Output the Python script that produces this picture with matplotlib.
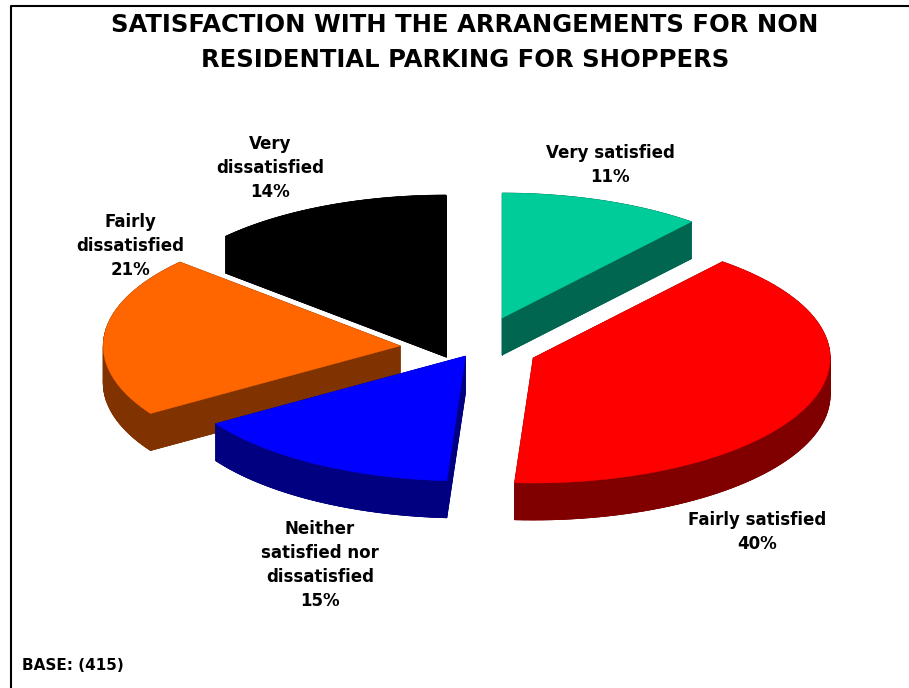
import numpy as np
import matplotlib.pyplot as plt
from matplotlib.patches import Polygon

# data
labels = ['Very satisfied', 'Fairly satisfied', 'Neither\nsatisfied nor\ndissatisfied',
          'Fairly\ndissatisfied', 'Very\ndissatisfied']
pct_labels = ['11%', '40%', '15%', '21%', '14%']
# slice sizes (printed % are rounded)
shares = [11.0, 40.0, 14.9, 20.8, 13.3]
top_colors = ['#00CC99', '#FF0000', '#0000FF', '#FF6600', '#000000']
side_colors = ['#006650', '#800000', '#000080', '#803300', '#000000']
explode = [0.259, 0.207, 0.07, 0.256, 0.249]

# pie geometry (pixel coords, y down)
cx, cy = 476, 348.5
rx, ry = 297, 125
depth = 37

# label centres
label_pos = [(610, 165), (757, 532), (320, 565), (130, 246), (270, 168)]

fig = plt.figure(figsize=(9.09, 6.88), dpi=100)
ax = fig.add_axes([0, 0, 1, 1])
ax.set_xlim(0, 909)
ax.set_ylim(688, 0)
ax.axis('off')

fracs = np.array(shares) / sum(shares)
starts = 90 - 360 * np.concatenate([[0], np.cumsum(fracs)[:-1]])
ends = starts - 360 * fracs

wedges = []
for i in range(len(shares)):
    a1, a2 = np.radians(starts[i]), np.radians(ends[i])
    mid = (a1 + a2) / 2
    tx = cx + explode[i] * rx * np.cos(mid)
    ty = cy - explode[i] * ry * np.sin(mid)
    th = np.linspace(a1, a2, 80)
    pts = [(tx, ty)] + [(tx + rx * np.cos(t), ty - ry * np.sin(t)) for t in th]
    wedges.append((ty, pts, i))

# back to front
for ty, pts, i in sorted(wedges, key=lambda w: w[0]):
    pts = np.array(pts)
    low = pts + [0, depth]
    ax.add_patch(Polygon(low, closed=True, fc=side_colors[i], ec=side_colors[i], lw=0.5))
    n = len(pts)
    for k in range(n):
        p, q = pts[k], pts[(k + 1) % n]
        quad = [p, q, q + [0, depth], p + [0, depth]]
        ax.add_patch(Polygon(quad, closed=True, fc=side_colors[i], ec=side_colors[i], lw=0.5))
    ax.add_patch(Polygon(pts, closed=True, fc=top_colors[i], ec=top_colors[i], lw=0.3))

for i, (lx, ly) in enumerate(label_pos):
    ax.text(lx, ly, labels[i] + '\n' + pct_labels[i], ha='center', va='center',
            multialignment='center', fontsize=12, fontweight='bold', linespacing=1.45,
            family='DejaVu Sans')

ax.text(465, 42.5, 'SATISFACTION WITH THE ARRANGEMENTS FOR NON\nRESIDENTIAL PARKING FOR SHOPPERS',
        ha='center', va='center', multialignment='center', fontsize=17.5, fontweight='bold',
        linespacing=1.6)
ax.text(22, 666, 'BASE: (415)', ha='left', va='center', fontsize=11, fontweight='bold')

# frame on left and top
ax.plot([10.5, 10.5, 909], [688, 6, 6], color='black', lw=1.5, solid_capstyle='butt')

fig.savefig('out.png', dpi=100)
